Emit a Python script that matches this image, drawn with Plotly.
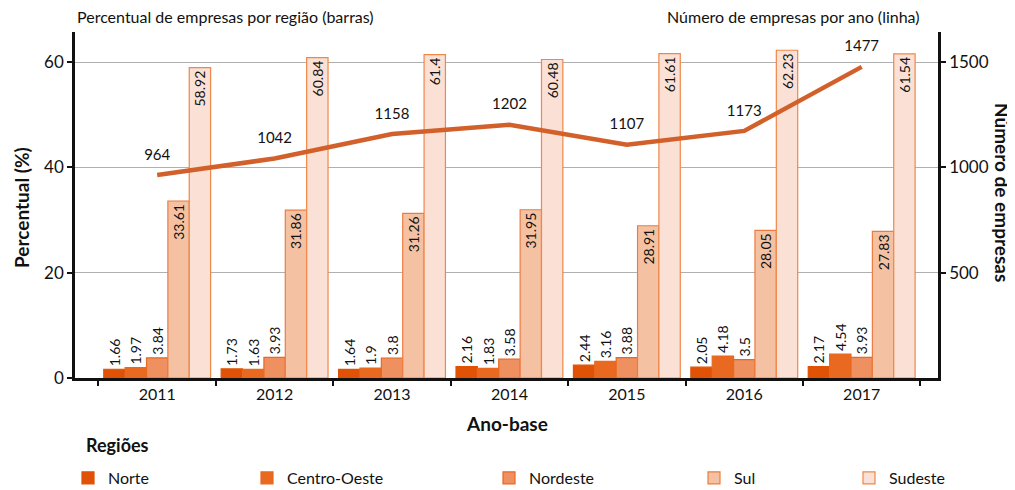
import plotly.graph_objects as go

anos = ["2011", "2012", "2013", "2014", "2015", "2016", "2017"]
norte = [1.66, 1.73, 1.64, 2.16, 2.44, 2.05, 2.17]
centro_oeste = [1.97, 1.63, 1.9, 1.83, 3.16, 4.18, 4.54]
nordeste = [3.84, 3.93, 3.8, 3.58, 3.88, 3.5, 3.93]
sul = [33.61, 31.86, 31.26, 31.95, 28.91, 28.05, 27.83]
sudeste = [58.92, 60.84, 61.4, 60.48, 61.61, 62.23, 61.54]
empresas = [964, 1042, 1158, 1202, 1107, 1173, 1477]

FONT = "Lato"
# the page body adds an 8px offset, so the figure is 8px smaller
OFF = 8
W, H = 1015 - OFF, 490 - OFF
L, R, T, B = 75 - OFF, 77, 32 - OFF, 112
pw = W - L - R
ph = H - T - B

def px2paper_x(px):  # px in reference (page) coordinates
    return (px - OFF - L) / pw

def px2paper_y(py):
    return (H - B - (py - OFF)) / ph

series = [
    ("Norte", norte, "#E05206", "#E05206", "outside"),
    ("Centro-Oeste", centro_oeste, "#E8691F", "#E8691F", "outside"),
    ("Nordeste", nordeste, "#EE9060", "#E8691F", "outside"),
    ("Sul", sul, "#F5C1A3", "#EC7C40", "inside"),
    ("Sudeste", sudeste, "#FBE1D5", "#EF8748", "inside"),
]
marker_x = [84, 263, 505, 710, 865]

fig = go.Figure()
for i, (name, vals, fill, border, pos) in enumerate(series):
    lg = "legend" if i == 0 else f"legend{i+1}"
    fig.add_trace(go.Bar(
        x=anos, y=vals, name=name,
        marker=dict(color=fill, line=dict(color=border, width=1.2)),
        text=[f"{v:g}" for v in vals],
        textposition=pos,
        insidetextanchor="end",
        textangle=-90,
        textfont=dict(family=FONT, size=14, color="#111"),
        constraintext="none",
        cliponaxis=False,
        legend=lg,
        showlegend=True,
    ))

fig.add_trace(go.Scatter(
    x=anos, y=empresas, yaxis="y2", mode="lines+markers+text",
    line=dict(color="#D2602A", width=4.5),
    marker=dict(size=17, color="rgba(0,0,0,0)"),
    text=[str(v) for v in empresas], textposition="top center",
    textfont=dict(family=FONT, size=15, color="#111"),
    showlegend=False, cliponaxis=False, hoverinfo="skip",
))

legends = {}
for i, mx in enumerate(marker_x):
    key = "legend" if i == 0 else f"legend{i+1}"
    legends[key] = dict(
        x=px2paper_x(mx - 16), y=px2paper_y(478), xanchor="left", yanchor="middle",
        orientation="h", bgcolor="rgba(0,0,0,0)",
        font=dict(family=FONT, size=16, color="#111"),
    )

fig.update_layout(
    width=W, height=H,
    margin=dict(l=L, r=R, t=T, b=B, autoexpand=False),
    paper_bgcolor="white", plot_bgcolor="white",
    barmode="group", bargap=0.09, bargroupgap=0,
    font=dict(family=FONT, size=15, color="#111"),
    xaxis=dict(
        type="category", range=[-0.7, 6.65],
        tickson="boundaries", ticks="outside", ticklen=5, tickwidth=2, tickcolor="#111",
        showline=True, linecolor="#111", linewidth=2.5,
        tickfont=dict(family=FONT, size=16, color="#111"),
        showgrid=False,
    ),
    yaxis=dict(
        range=[0, 65.7], tickvals=[0, 20, 40, 60],
        ticks="outside", ticklen=5, tickwidth=2, tickcolor="#111",
        showline=True, linecolor="#111", linewidth=2.5,
        showgrid=True, gridcolor="#B0B0B0", gridwidth=1,
        zeroline=False,
        tickfont=dict(family=FONT, size=17, color="#111"),
    ),
    yaxis2=dict(
        overlaying="y", side="right", range=[0, 65.7 * 25],
        tickvals=[500, 1000, 1500],
        ticks="outside", ticklen=5, tickwidth=2, tickcolor="#111",
        showline=True, linecolor="#111", linewidth=2.5,
        showgrid=False, zeroline=False,
        tickfont=dict(family=FONT, size=17, color="#111"),
    ),
    **legends,
    annotations=[
        dict(text="Percentual de empresas por região (barras)", xref="paper", yref="paper",
             x=px2paper_x(75), y=px2paper_y(17), xanchor="left", yanchor="middle",
             showarrow=False, font=dict(family=FONT, size=16, color="#111")),
        dict(text="Número de empresas por ano (linha)", xref="paper", yref="paper",
             x=px2paper_x(922), y=px2paper_y(17), xanchor="right", yanchor="middle",
             showarrow=False, font=dict(family=FONT, size=16, color="#111")),
        dict(text="<b>Percentual (%)</b>", xref="paper", yref="paper",
             x=px2paper_x(21), y=px2paper_y(208), xanchor="center", yanchor="middle",
             textangle=-90, showarrow=False, font=dict(family=FONT, size=19, color="#111")),
        dict(text="<b>Número de empresas</b>", xref="paper", yref="paper",
             x=px2paper_x(1003), y=px2paper_y(192), xanchor="center", yanchor="middle",
             textangle=90, showarrow=False, font=dict(family=FONT, size=19, color="#111")),
        dict(text="<b>Ano-base</b>", xref="paper", yref="paper",
             x=px2paper_x(507), y=px2paper_y(423), xanchor="center", yanchor="middle",
             showarrow=False, font=dict(family=FONT, size=19, color="#111")),
        dict(text="<b>Regiões</b>", xref="paper", yref="paper",
             x=px2paper_x(84), y=px2paper_y(445), xanchor="left", yanchor="middle",
             showarrow=False, font=dict(family=FONT, size=18, color="#111")),
    ],
)

fig.write_html("out.html")
